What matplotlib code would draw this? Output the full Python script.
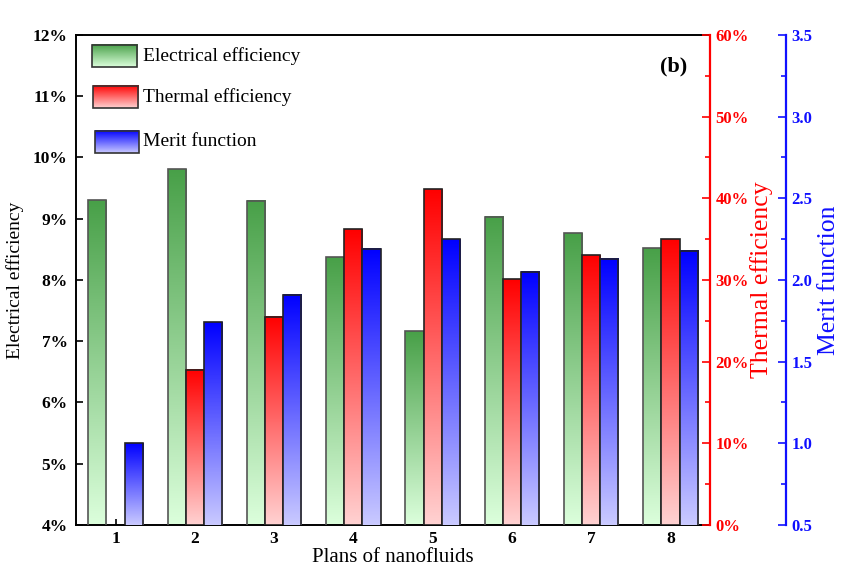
import matplotlib
matplotlib.use("Agg")
import matplotlib.pyplot as plt
import matplotlib.colors as mcolors
import numpy as np
from matplotlib.patches import Rectangle
from matplotlib.ticker import AutoMinorLocator, MultipleLocator, PercentFormatter

plt.rcParams["font.family"] = ["Liberation Serif", "DejaVu Serif"]

plans = np.arange(1, 9)
electrical = [9.30, 9.81, 9.29, 8.37, 7.16, 9.03, 8.76, 8.52]   # %
thermal = [np.nan, 19.0, 25.5, 36.2, 41.1, 30.1, 33.0, 35.0]     # %
merit = [1.00, 1.74, 1.91, 2.19, 2.25, 2.05, 2.13, 2.18]

GREEN = ("#dcffdc", "#48a048")   # bottom, top
RED = ("#ffd2d2", "#ff0000")
BLUE = ("#cacaff", "#0000ff")
BLUE_AX = "#1010ff"


def gradient(colors):
    lo = np.array(mcolors.to_rgb(colors[0]))
    hi = np.array(mcolors.to_rgb(colors[1]))
    t = np.linspace(0, 1, 256)[:, None, None]
    return lo + (hi - lo) * t


def gradient_bars(ax, x, values, colors, edge, floor):
    bars = ax.bar(x, values, width=0.23, facecolor="none", edgecolor=edge,
                  linewidth=1.2, zorder=3)
    img = gradient(colors)
    for bar, v in zip(bars, values):
        if np.isnan(v):
            continue
        x0 = bar.get_x()
        ax.imshow(img, extent=[x0, x0 + bar.get_width(), floor, v],
                  origin="lower", aspect="auto", interpolation="bilinear",
                  zorder=2)
    return bars


def legend_entry(ax, box, y_text, colors, label):
    x0, x1, y0, y1 = box
    ax.imshow(gradient(colors), extent=[x0, x1, y0, y1], origin="lower",
              aspect="auto", transform=ax.transAxes, zorder=5)
    ax.add_patch(Rectangle((x0, y0), x1 - x0, y1 - y0, fill=False,
                           edgecolor="#333333", linewidth=1.2,
                           transform=ax.transAxes, zorder=6))
    ax.text(0.106, y_text, label, transform=ax.transAxes, va="center",
            ha="left", fontsize=14, zorder=6)


fig = plt.figure(figsize=(8.49, 5.68), dpi=100)
ax = fig.add_axes([0.0895, 0.0757, 0.7468, 0.8627])
ax_t = ax.twinx()
ax_m = ax.twinx()

gradient_bars(ax, plans - 0.23, electrical, GREEN, "#555555", 4)
gradient_bars(ax_t, plans, thermal, RED, "#222222", 0)
gradient_bars(ax_m, plans + 0.23, merit, BLUE, "#222222", 0.5)

# left axis: electrical efficiency
ax.set_xlim(0.5, 8.5)
ax.set_ylim(4, 12)
ax.set_xticks(plans)
ax.yaxis.set_major_locator(MultipleLocator(1))
ax.yaxis.set_major_formatter(PercentFormatter(decimals=0))
ax.tick_params(axis="y", direction="in", length=5, width=1.2,
               labelsize=12.5, pad=6)
ax.tick_params(axis="x", direction="in", length=4, width=1.2,
               labelsize=12.5, pad=4)
for lab in ax.get_xticklabels() + ax.get_yticklabels():
    lab.set_fontweight("bold")
ax.set_xlabel("Plans of nanofluids", fontsize=15, va="center")
ax.xaxis.set_label_coords(0.5, -0.066)
ax.set_ylabel("Electrical efficiency", fontsize=14, labelpad=6)
for side in ("left", "top", "bottom"):
    ax.spines[side].set_linewidth(1.4)
ax.spines["right"].set_visible(False)

# first right axis: thermal efficiency
ax_t.set_ylim(0, 60)
ax_t.yaxis.set_major_locator(MultipleLocator(10))
ax_t.yaxis.set_minor_locator(AutoMinorLocator(2))
ax_t.yaxis.set_major_formatter(PercentFormatter(decimals=0))
ax_t.tick_params(axis="y", which="major", direction="in", length=6,
                 width=1.2, colors="red", labelsize=12, pad=4)
ax_t.tick_params(axis="y", which="minor", direction="in", length=3.5,
                 width=1.2, colors="red")
for lab in ax_t.get_yticklabels():
    lab.set_fontweight("bold")
ax_t.set_ylabel("Thermal efficiency", color="red", fontsize=18.5,
                labelpad=1)
for side in ("left", "top", "bottom"):
    ax_t.spines[side].set_visible(False)
ax_t.spines["right"].set_color("red")
ax_t.spines["right"].set_linewidth(1.6)

# second right axis: merit function, offset outward
ax_m.spines["right"].set_position(("axes", 1.12))
ax_m.set_ylim(0.5, 3.5)
ax_m.yaxis.set_major_locator(MultipleLocator(0.5))
ax_m.yaxis.set_minor_locator(AutoMinorLocator(2))
ax_m.yaxis.set_major_formatter(lambda v, pos: f"{v:.1f}")
ax_m.tick_params(axis="y", which="major", direction="in", length=6,
                 width=1.2, colors=BLUE_AX, labelsize=12, pad=4)
ax_m.tick_params(axis="y", which="minor", direction="in", length=3.5,
                 width=1.2, colors=BLUE_AX)
for lab in ax_m.get_yticklabels():
    lab.set_fontweight("bold")
ax_m.set_ylabel("Merit function", color=BLUE_AX, fontsize=18.5, labelpad=4)
for side in ("left", "top", "bottom"):
    ax_m.spines[side].set_visible(False)
ax_m.spines["right"].set_color(BLUE_AX)
ax_m.spines["right"].set_linewidth(1.6)

legend_entry(ax_m, (0.025, 0.096, 0.935, 0.980), 0.957, GREEN,
             "Electrical efficiency")
legend_entry(ax_m, (0.027, 0.098, 0.851, 0.896), 0.873, RED,
             "Thermal efficiency")
legend_entry(ax_m, (0.030, 0.099, 0.759, 0.804), 0.782, BLUE,
             "Merit function")
ax_m.text(0.942, 0.935, "(b)", transform=ax_m.transAxes, ha="center",
          va="center", fontsize=16, fontweight="bold", zorder=6)

# imshow calls can shift limits, so pin them again
ax.set_xlim(0.5, 8.5)
ax.set_ylim(4, 12)
ax_t.set_ylim(0, 60)
ax_m.set_ylim(0.5, 3.5)

fig.savefig("out.png", dpi=100)
